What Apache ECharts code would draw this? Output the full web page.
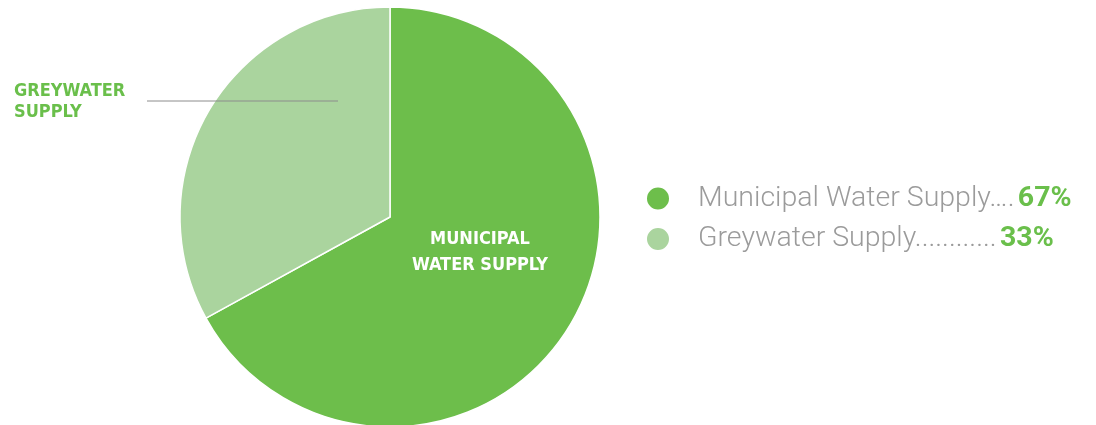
<!DOCTYPE html>
<html>
<head>
    <meta charset="UTF-8">
    <title>Water Supply</title>
    <script src="https://cdn.jsdelivr.net/npm/echarts@6/dist/echarts.min.js"></script>
    <style>
        html, body { margin: 0; padding: 0; background: #fff; }
        #pie_chart { width: 1096px; height: 425px; }
    </style>
</head>
<body>
<div id="pie_chart"></div>
<script>
    // data
    var categories = ['Municipal Water Supply', 'Greywater Supply'];
    var shares = [67, 33];
    var sliceLabels = ['MUNICIPAL\nWATER SUPPLY', 'GREYWATER\nSUPPLY'];
    var leaders = ['\u2026.', '............'];
    var colors = ['#6dbe4b', '#aad49e'];

    var condensed = '"Liberation Sans Narrow", "DejaVu Sans Condensed", sans-serif';

    var pieData = categories.map(function (name, i) {
        var inside = i === 0;
        return {
            name: name,
            value: shares[i],
            itemStyle: { color: colors[i] },
            label: {
                show: true,
                position: inside ? 'inside' : 'outside',
                formatter: sliceLabels[i],
                color: inside ? '#ffffff' : '#6abf4b',
                fontFamily: condensed,
                fontWeight: 'bold',
                fontSize: 18,
                lineHeight: inside ? 26 : 21
            },
            labelLine: { show: !inside }
        };
    });

    var chart = echarts.init(document.getElementById('pie_chart'));

    var option = {
        animation: false,
        legend: {
            orient: 'vertical',
            left: 640,
            top: 179,
            icon: 'circle',
            itemWidth: 24,
            itemHeight: 24,
            itemGap: 11.5,
            selectedMode: false,
            data: categories,
            formatter: function (name) {
                var i = categories.indexOf(name);
                return '{n|' + name + leaders[i] + '} {p|' + shares[i] + '%}';
            },
            textStyle: {
                rich: {
                    n: {
                        fontFamily: 'Roboto, sans-serif',
                        fontWeight: 300,
                        fontSize: 28.5,
                        color: '#9b9b9b',
                        padding: [0, 0, 0, 23]
                    },
                    p: {
                        fontFamily: 'Roboto, sans-serif',
                        fontWeight: 'bold',
                        fontSize: 28.5,
                        color: '#6abf4b'
                    }
                }
            }
        },
        series: [{
            type: 'pie',
            center: [390, 217],
            radius: 210,
            startAngle: 90,
            clockwise: true,
            itemStyle: { borderColor: '#ffffff', borderWidth: 1.5 },
            emphasis: { disabled: true },
            labelLine: {
                showAbove: true,
                lineStyle: { color: '#8c8c8c', width: 1 }
            },
            data: pieData,
            labelLayout: function (params) {
                if (params.dataIndex === 0) {
                    return { x: 480, y: 252, align: 'center', verticalAlign: 'middle' };
                }
                return {
                    x: 14, y: 102, align: 'left', verticalAlign: 'middle',
                    labelLinePoints: [[338, 101], [147, 101], [147, 101]]
                };
            }
        }]
    };
    chart.setOption(option);

    // the leader line runs into the slice, so lift it above the sectors
    chart.getZr().storage.getDisplayList(true).forEach(function (el) {
        if (el.type === 'polyline') {
            el.z2 = 10;
            el.markRedraw();
        }
    });
    chart.getZr().refreshImmediately();
</script>
</body>
</html>
